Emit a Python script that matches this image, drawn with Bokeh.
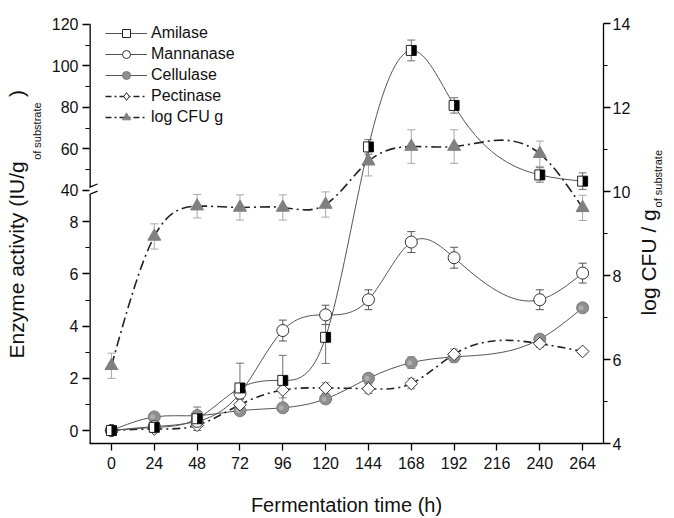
import numpy as np
from bokeh.plotting import figure
from bokeh.models import (Range1d, LinearAxis, FixedTicker, Legend, LegendItem,
                          Title, ColumnDataSource, CustomJSTickFormatter)
from bokeh.transform import dodge
from bokeh.embed import file_html
from bokeh.resources import INLINE

FONT = "Liberation Sans"
NB = "\u00a0"

# ---------------- data ----------------
time_h = [0, 24, 48, 72, 96, 120, 144, 168, 192, 240, 264]

amilase = [0.0, 0.12, 0.45, 1.63, 1.92, 3.57, 61.0, 107.5, 81.0, 47.5, 44.5]
amilase_err = [0.05, 0.1, 0.45, 0.95, 0.96, 1.0, 3.5, 5.0, 3.7, 3.5, 4.0]

mannanase = [0.0, 0.15, 0.35, 1.43, 3.83, 4.43, 5.01, 7.22, 6.62, 5.01, 6.03]
mannanase_err = [0.05, 0.1, 0.15, 0.2, 0.4, 0.37, 0.38, 0.4, 0.4, 0.38, 0.38]

cellulase = [0.0, 0.52, 0.57, 0.76, 0.87, 1.21, 2.0, 2.6, 2.82, 3.5, 4.7]
cellulase_err = [0.05, 0.08, 0.1, 0.12, 0.12, 0.15, 0.18, 0.22, 0.2, 0.15, 0.15]

pectinase = [0.0, 0.06, 0.2, 0.99, 1.55, 1.63, 1.6, 1.8, 2.92, 3.33, 3.03]
pectinase_err = [0.03, 0.05, 0.08, 0.2, 0.3, 0.2, 0.18, 0.2, 0.2, 0.15, 0.1]

log_cfu = [5.85, 8.93, 9.65, 9.62, 9.62, 9.69, 10.72, 11.07, 11.07, 10.9, 9.61]
log_cfu_err = [0.3, 0.3, 0.28, 0.3, 0.3, 0.3, 0.35, 0.4, 0.4, 0.3, 0.3]

x_ticks = [0, 24, 48, 72, 96, 120, 144, 168, 192, 216, 240, 264]
enzyme_ticks_low = [0, 2, 4, 6, 8]
enzyme_minor_low = [1, 3, 5, 7]
enzyme_ticks_high = [40, 60, 80, 100, 120]
enzyme_minor_high = [50, 70, 90, 110]
cfu_ticks = [4, 6, 8, 10, 12, 14]
cfu_minor = [5, 7, 9, 11, 13]

# ---------------- broken enzyme axis -> right-axis (log CFU) scale ----------------
LOW0, LOWK = 4.3095, 0.62143      # lower segment 0..9
HIGH0, HIGHK = 10.024, 0.049405   # upper segment 40..120
SPLIT = 20.0                      # enzyme values below this use the lower segment
CUT = 9.97                        # same split expressed on the drawn scale
GAP_LO, GAP_HI = 9.93, 10.10      # axis line gap around the break

# anchor positions (on the log CFU scale) of the right-hand title pieces
RT_MAIN_POS = 7.05
RT_SUB_POS = 9.62


def brk(v):
    v = np.asarray(v, dtype=float)
    return np.where(v < SPLIT, LOW0 + LOWK * v, HIGH0 + HIGHK * (v - 40.0))


def spline_slopes(x, y):
    """Slopes of a natural cubic spline through (x, y)."""
    x = np.asarray(x, float)
    y = np.asarray(y, float)
    n = len(x)
    h = np.diff(x)
    A = np.zeros((n, n))
    b = np.zeros(n)
    A[0, 0] = 1.0
    A[-1, -1] = 1.0
    for i in range(1, n - 1):
        A[i, i - 1] = h[i - 1]
        A[i, i] = 2 * (h[i - 1] + h[i])
        A[i, i + 1] = h[i]
        b[i] = 6 * ((y[i + 1] - y[i]) / h[i] - (y[i] - y[i - 1]) / h[i - 1])
    M = np.linalg.solve(A, b)
    m = np.empty(n)
    for i in range(n - 1):
        m[i] = (y[i + 1] - y[i]) / h[i] - h[i] * (2 * M[i] + M[i + 1]) / 6
    m[-1] = (y[-1] - y[-2]) / h[-1] + h[-1] * (M[-2] + 2 * M[-1]) / 6
    return m


def curve_source(x, yd):
    x = np.asarray(x, float)
    yd = np.asarray(yd, float)
    m = spline_slopes(x, yd)
    h = np.diff(x)
    return ColumnDataSource(dict(
        x0=x[:-1], y0=yd[:-1], x1=x[1:], y1=yd[1:],
        cx0=x[:-1] + h / 3, cy0=yd[:-1] + m[:-1] * h / 3,
        cx1=x[1:] - h / 3, cy1=yd[1:] - m[1:] * h / 3))


# ---------------- figure ----------------
X_LEFT, X_RIGHT = -12.3, 275.7
p = figure(width=674, height=518, x_range=Range1d(X_LEFT, X_RIGHT), y_range=Range1d(4, 14),
           output_backend="svg", toolbar_location=None,
           min_border_left=89, min_border_right=70, min_border_top=23, min_border_bottom=75)
p.outline_line_color = None
p.xgrid.visible = False
p.ygrid.visible = False
p.background_fill_color = "white"
p.border_fill_color = "white"


def style_axis(ax, standoff=4):
    ax.axis_line_color = "black"
    ax.axis_line_width = 1.3
    ax.major_tick_line_color = "black"
    ax.minor_tick_line_color = "black"
    ax.major_tick_line_width = 1.3
    ax.minor_tick_line_width = 1.1
    ax.major_tick_out = 7
    ax.major_tick_in = 0
    ax.minor_tick_out = 4
    ax.minor_tick_in = 0
    ax.major_label_text_font = FONT
    ax.major_label_text_font_size = "16px"
    ax.major_label_text_color = "#111111"
    ax.major_label_standoff = standoff
    ax.axis_label_text_font = FONT
    ax.axis_label_text_font_style = "normal"
    ax.axis_label_text_color = "#111111"


xa = p.xaxis[0]
xa.ticker = FixedTicker(ticks=x_ticks, minor_ticks=[])
style_axis(xa, 6)
xa.axis_label = "Fermentation time (h)"
xa.axis_label_text_font_size = "20px"
xa.axis_label_standoff = 22

ya = p.yaxis[0]
ya.ticker = FixedTicker(ticks=[float(v) for v in brk(enzyme_ticks_low + enzyme_ticks_high)],
                        minor_ticks=[float(v) for v in brk(enzyme_minor_low + enzyme_minor_high)])
ya.formatter = CustomJSTickFormatter(
    args=dict(l0=LOW0, lk=LOWK, h0=HIGH0, hk=HIGHK, cut=CUT),
    code="""
    const v = tick < cut ? (tick - l0) / lk : (tick - h0) / hk + 40;
    return Math.round(v).toString();
    """)
style_axis(ya, 4)
ya.axis_line_color = None          # drawn below with a break
# subscript of the left title, shifted along the axis with no-break spaces
ya.axis_label = NB * 67 + "of substrate"
ya.axis_label_text_font_size = "11px"
ya.axis_label_standoff = 6

ra = LinearAxis(ticker=FixedTicker(ticks=cfu_ticks, minor_ticks=cfu_minor))
style_axis(ra, 2)
p.add_layout(ra, "right")

# main left title (outside the subscript)
p.add_layout(Title(text="Enzyme activity (IU/g" + NB * 11 + ")", align="left", offset=85,
                   standoff=0, vertical_align="bottom", text_font=FONT,
                   text_font_size="21px", text_font_style="normal",
                   text_color="#111111"), "left")


# right title: two label-only axes whose single tick label reads bottom-to-top
def title_axis(text, pos, size, standoff):
    ax = LinearAxis(ticker=FixedTicker(ticks=[pos], minor_ticks=[]),
                    formatter=CustomJSTickFormatter(args=dict(t=text), code="return t;"))
    ax.axis_line_color = None
    ax.major_tick_line_color = None
    ax.minor_tick_line_color = None
    ax.major_tick_out = 0
    ax.major_tick_in = 0
    ax.minor_tick_out = 0
    ax.major_label_orientation = np.pi / 2
    ax.major_label_standoff = standoff
    ax.major_label_text_font = FONT
    ax.major_label_text_font_size = size
    ax.major_label_text_color = "#111111"
    p.add_layout(ax, "right")


title_axis("log CFU / g", RT_MAIN_POS, "21px", 15)
title_axis("of substrate", RT_SUB_POS, "11px", -16)

# ---------------- broken left axis line ----------------
axis_src = ColumnDataSource(dict(x0=[X_LEFT, X_LEFT], y0=[4, GAP_HI], x1=[X_LEFT, X_LEFT], y1=[GAP_LO, 14]))
p.segment(x0="x0", y0="y0", x1="x1", y1="y1", source=axis_src, line_color="black", line_width=2.6)
slash_src = ColumnDataSource(dict(x0=[X_LEFT - 4.5, X_LEFT - 4.5], y0=[GAP_HI - 0.08, GAP_LO - 0.08],
                                  x1=[X_LEFT + 4.5, X_LEFT + 4.5], y1=[GAP_HI + 0.08, GAP_LO + 0.08]))
p.segment(x0="x0", y0="y0", x1="x1", y1="y1", source=slash_src, line_color="black", line_width=1.2)

# ---------------- error bars ----------------
def errorbars(vals, errs, color, mapped=True):
    up = np.add(vals, errs)
    lo = np.subtract(vals, errs)
    if mapped:
        up, lo = brk(up), brk(lo)
    src = ColumnDataSource(dict(x=time_h, up=up, lo=lo))
    p.segment(x0="x", y0="lo", x1="x", y1="up", source=src, line_color=color, line_width=1)
    p.scatter("x", "up", marker="dash", size=8, source=src, line_color=color, line_width=1)
    p.scatter("x", "lo", marker="dash", size=8, source=src, line_color=color, line_width=1)


errorbars(log_cfu, log_cfu_err, "#a8a8a8", mapped=False)
errorbars(cellulase, cellulase_err, "#8a8a8a")
errorbars(pectinase, pectinase_err, "#8a8a8a")
errorbars(mannanase, mannanase_err, "#555555")
errorbars(amilase, amilase_err, "#707070")

# ---------------- curves ----------------
SOLID = dict(line_color="#555555", line_width=1)
DASH_P = dict(line_color="#222222", line_width=1.6, line_dash="8 4 2 4")
DASH_C = dict(line_color="#222222", line_width=1.6, line_dash="10 4 2 4")


def curve(vals, style):
    return p.bezier(x0="x0", y0="y0", x1="x1", y1="y1", cx0="cx0", cy0="cy0", cx1="cx1", cy1="cy1",
                    source=curve_source(time_h, vals), **style)


curve(brk(cellulase), SOLID)
curve(brk(pectinase), DASH_P)
curve(brk(mannanase), SOLID)
curve(brk(amilase), SOLID)
curve(log_cfu, DASH_C)

# ---------------- markers ----------------
src_cel = ColumnDataSource(dict(x=time_h, y=brk(cellulase)))
src_pec = ColumnDataSource(dict(x=time_h, y=brk(pectinase)))
src_man = ColumnDataSource(dict(x=time_h, y=brk(mannanase)))
src_ami = ColumnDataSource(dict(x=time_h, y=brk(amilase)))
src_cfu = ColumnDataSource(dict(x=time_h, y=log_cfu))

m_cel = p.scatter("x", "y", source=src_cel, marker="circle", size=12,
                  fill_color="#8f8f8f", line_color="#7a7a7a", line_width=1)
p.scatter(dodge("x", -0.9), "y", source=src_cel, marker="circle", size=5,
          fill_color="#b5b5b5", line_color=None, fill_alpha=0.8)
p.scatter("x", "y", source=src_pec, marker="square", angle=np.pi / 4, size=9,
          fill_color="white", line_color="#333333", line_width=1)
m_man = p.scatter("x", "y", source=src_man, marker="circle", size=12,
                  fill_color="white", line_color="#333333", line_width=1)
m_ami = p.scatter("x", "y", source=src_ami, marker="square", size=10,
                  fill_color="white", line_color="#222222", line_width=1)
p.rect(dodge("x", 1.4), "y", source=src_ami, width=5, height=10,
       width_units="screen", height_units="screen", fill_color="black", line_color=None)
m_cfu = p.scatter("x", "y", source=src_cfu, marker="triangle", size=13,
                  fill_color="#808080", line_color="#808080", line_width=1)

# ---------------- legend (sample renderers are hidden in the plot) ----------------
LEG_P = dict(line_color="#222222", line_width=1.4, line_dash="6 3 2 3")
l_ami = p.line("x", "y", source=src_ami, visible=False, **SOLID)
l_man = p.line("x", "y", source=src_man, visible=False, **SOLID)
l_cel = p.line("x", "y", source=src_cel, visible=False, **SOLID)
l_pec = p.line("x", "y", source=src_pec, visible=False, **LEG_P)
l_cfu = p.line("x", "y", source=src_cfu, visible=False, **LEG_P)
m_pec_leg = p.scatter("x", "y", source=src_pec, marker="diamond", size=14, visible=False,
                      fill_color="white", line_color="#333333", line_width=1)

legend = Legend(items=[
    LegendItem(label="Amilase", renderers=[l_ami, m_ami]),
    LegendItem(label="Mannanase", renderers=[l_man, m_man]),
    LegendItem(label="Cellulase", renderers=[l_cel, m_cel]),
    LegendItem(label="Pectinase", renderers=[l_pec, m_pec_leg]),
    LegendItem(label="log CFU g", renderers=[l_cfu, m_cfu]),
], location=(16, 316), orientation="vertical")
legend.glyph_width = 42
legend.glyph_height = 20
legend.label_height = 20
legend.spacing = 1
legend.padding = 0
legend.margin = 0
legend.label_standoff = 4
legend.label_text_font = FONT
legend.label_text_font_size = "16px"
legend.label_text_color = "#111111"
legend.background_fill_alpha = 0
legend.border_line_color = None
legend.inactive_fill_alpha = 0
p.add_layout(legend, "center")

open("out.html", "w").write(file_html(p, INLINE))
